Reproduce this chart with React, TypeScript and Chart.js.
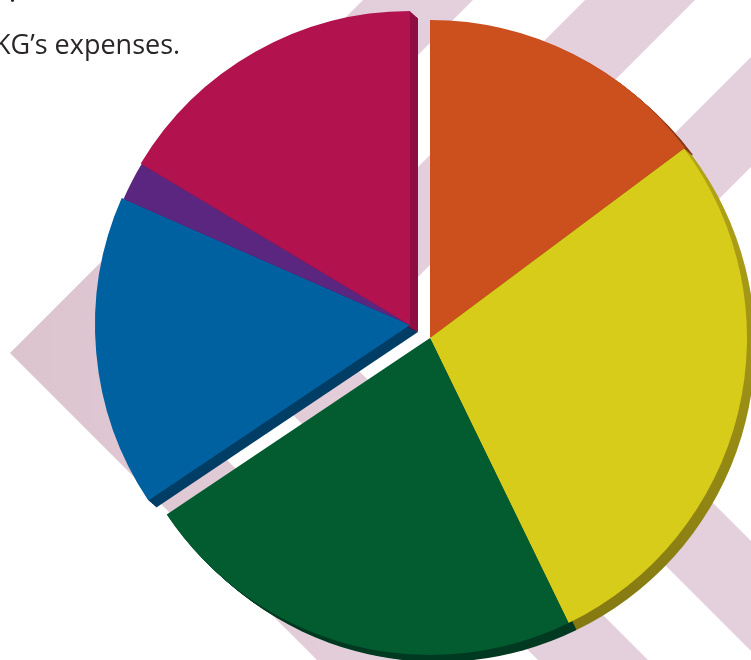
import React, { useEffect, useRef } from "react";
import { Chart, registerables } from "chart.js";

Chart.register(...registerables);

const categories = ["Orange", "Yellow", "Green", "Blue", "Purple", "Crimson"];
const shares = [14.8, 28.0, 22.8, 16.0, 2.0, 16.4];
const faceColors = ["#cc4f1e", "#d7cc1a", "#025c30", "#0061a0", "#5b2680", "#b2124d"];
const edgeColors = ["#8a3a14", "#9b8e14", "#003a22", "#003e66", "#3e1560", "#8f0d42"];
const captionLines = [".", "KG\u2019s expenses."];

const LEFT_SHIFT = { x: -20, y: -13 };
const LEFT_GROUP = [3, 4, 5];
const SLICE_RADII = [318, 317, 317, 315, 313, 314];
const DEPTH = 8;

const chevrons = [
  { outerSum: 363, outerDiff: -343 },
  { outerSum: 585, outerDiff: -122 },
  { outerSum: 808, outerDiff: 100 },
];
const BAND = 110;

const backdrop = {
  id: "backdrop",
  beforeDraw(chart: any) {
    const { ctx, width, height } = chart;
    const far = width + height + 400;
    ctx.save();
    const tint = ctx.createLinearGradient(0, 0, 450, 0);
    tint.addColorStop(0, "#dcc4ce");
    tint.addColorStop(1, "#e4d0dd");
    ctx.fillStyle = tint;
    for (const c of chevrons) {
      const corner = (sum: number, diff: number) => [(sum + diff) / 2, (sum - diff) / 2];
      const [ax, ay] = corner(c.outerSum, c.outerDiff);
      const [bx, by] = corner(c.outerSum + BAND, c.outerDiff + BAND);
      ctx.beginPath();
      ctx.moveTo(ax + far, ay - far);
      ctx.lineTo(ax, ay);
      ctx.lineTo(ax + far, ay + far);
      ctx.lineTo(bx + far, by + far);
      ctx.lineTo(bx, by);
      ctx.lineTo(bx + far, by - far);
      ctx.closePath();
      ctx.fill();
    }
    ctx.fillStyle = "#2a2627";
    ctx.font = '400 27px "Open Sans"';
    ctx.textBaseline = "alphabetic";
    ctx.fillText(captionLines[0], 9, 2);
    ctx.fillText(captionLines[1], -6, 54);
    ctx.restore();
  },
};

const exploded = {
  id: "exploded",
  afterDatasetsUpdate(chart: any) {
    chart.getDatasetMeta(0).data.forEach((arc: any, i: number) => {
      arc.outerRadius = SLICE_RADII[i];
      if (LEFT_GROUP.includes(i)) {
        arc.x += LEFT_SHIFT.x;
        arc.y += LEFT_SHIFT.y;
      }
    });
  },
  beforeDatasetsDraw(chart: any) {
    const { ctx } = chart;
    const arcs = chart.getDatasetMeta(0).data;
    const yellowEdge = ctx.createLinearGradient(0, 150, 0, 620);
    yellowEdge.addColorStop(0, "#b3a518");
    yellowEdge.addColorStop(1, "#857a12");
    arcs.forEach((arc: any, i: number) => {
      ctx.save();
      ctx.fillStyle = i === 1 ? yellowEdge : edgeColors[i];
      for (let s = DEPTH; s >= 1; s--) {
        ctx.beginPath();
        ctx.moveTo(arc.x + s, arc.y + s * 0.875);
        ctx.arc(arc.x + s, arc.y + s * 0.875, arc.outerRadius, arc.startAngle, arc.endAngle);
        ctx.closePath();
        ctx.fill();
      }
      ctx.restore();
    });
  },
};

export default function App() {
  const ref = useRef<HTMLCanvasElement>(null);
  useEffect(() => {
    const chart = new Chart(ref.current!, {
      type: "pie",
      data: {
        labels: categories,
        datasets: [{ data: shares, backgroundColor: faceColors, borderWidth: 0, hoverOffset: 0 }],
      },
      options: {
        responsive: false,
        animation: false,
        layout: { padding: { left: 113, right: 4, top: 21, bottom: 5 } },
        plugins: { legend: { display: false }, tooltip: { enabled: false }, title: { display: false } },
      },
      plugins: [backdrop, exploded],
    } as any);
    return () => chart.destroy();
  }, []);
  return (
    <div style={{ position: "fixed", left: 0, top: 0, width: 751, height: 660, overflow: "hidden", background: "#fff" }}>
      <canvas ref={ref} width={751} height={660} style={{ display: "block" }} />
    </div>
  );
}
